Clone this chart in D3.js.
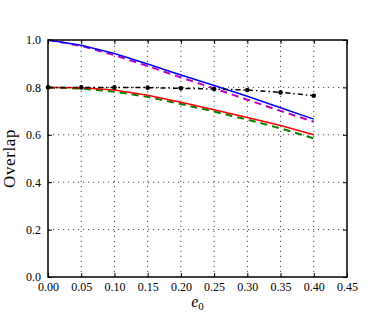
<!DOCTYPE html>
<html><head><meta charset="utf-8">
<script src="https://cdn.jsdelivr.net/npm/d3@7"></script>
<style>body{margin:0;background:#fff}svg{display:block}</style>
</head><body>
<script>
const xs = [0, 0.05, 0.10, 0.15, 0.20, 0.25, 0.30, 0.35, 0.40];
const blue = [1.0, 0.978, 0.943, 0.899, 0.852, 0.808, 0.763, 0.714, 0.666];
const magenta = [1.0, 0.975, 0.936, 0.890, 0.842, 0.796, 0.748, 0.701, 0.655];
const red = [0.8, 0.798, 0.789, 0.767, 0.737, 0.706, 0.673, 0.639, 0.600];
const green = [0.8, 0.795, 0.782, 0.760, 0.730, 0.698, 0.664, 0.627, 0.585];
const black = [0.8, 0.800, 0.800, 0.799, 0.796, 0.793, 0.789, 0.779, 0.765];
const xTicks = [0, 0.05, 0.10, 0.15, 0.20, 0.25, 0.30, 0.35, 0.40, 0.45];
const yTicks = [0, 0.2, 0.4, 0.6, 0.8, 1.0];

const W = 385, H = 316;
const m = {l: 48, r: 38, t: 40, b: 39};
const svg = d3.select("body").append("svg").attr("width", W).attr("height", H);
const x = d3.scaleLinear().domain([0, 0.45]).range([m.l, W - m.r]);
const y = d3.scaleLinear().domain([0, 1]).range([H - m.b, m.t]);
const font = "'Liberation Serif', 'Times New Roman', serif";

// grid
const g = svg.append("g");
g.selectAll(".gx").data(xTicks.slice(1, -1)).enter().append("line")
  .attr("x1", d => x(d)).attr("x2", d => x(d)).attr("y1", y(0)).attr("y2", y(1))
  .attr("stroke", "#333").attr("stroke-width", 0.9).attr("stroke-dasharray", "1.2,3.8");
g.selectAll(".gy").data(yTicks.slice(1, -1)).enter().append("line")
  .attr("x1", x(0)).attr("x2", x(0.45)).attr("y1", d => y(d)).attr("y2", d => y(d))
  .attr("stroke", "#333").attr("stroke-width", 0.9).attr("stroke-dasharray", "1.2,3.8");

// axes (inward ticks)
const fmtX = d3.format(".2f"), fmtY = d3.format(".1f");
const axB = svg.append("g").attr("transform", `translate(0,${y(0)})`)
  .call(d3.axisBottom(x).tickValues(xTicks).tickFormat(fmtX).tickSizeInner(-4).tickSizeOuter(0).tickPadding(7));
const axT = svg.append("g").attr("transform", `translate(0,${y(1)})`)
  .call(d3.axisTop(x).tickValues(xTicks).tickFormat("").tickSizeInner(-4).tickSizeOuter(0));
const axL = svg.append("g").attr("transform", `translate(${x(0)},0)`)
  .call(d3.axisLeft(y).tickValues(yTicks).tickFormat(fmtY).tickSizeInner(-4).tickSizeOuter(0).tickPadding(7));
const axR = svg.append("g").attr("transform", `translate(${x(0.45)},0)`)
  .call(d3.axisRight(y).tickValues(yTicks).tickFormat("").tickSizeInner(-4).tickSizeOuter(0));
[axB, axT, axL, axR].forEach(a => {
  a.select(".domain").remove();
  a.selectAll("line").attr("stroke", "#000").attr("stroke-width", 1);
  a.selectAll("text").attr("font-family", font).attr("font-size", 12).attr("fill", "#000");
});
axB.selectAll("text").attr("dy", "0.6em");

const line = d3.line().x((d, i) => x(xs[i])).y(d => y(d));
function drawLine(data, color, dash, w) {
  svg.append("path").datum(data).attr("d", line).attr("fill", "none")
    .attr("stroke", color).attr("stroke-width", w).attr("stroke-dasharray", dash);
}
drawLine(green, "#008000", "7,5", 2);
drawLine(red, "#ff0000", null, 1.5);
drawLine(magenta, "#bf00bf", "7,5", 2);
drawLine(blue, "#0000ff", null, 1.5);
drawLine(black, "#000", "5,3,1.5,3", 1.5);
svg.selectAll(".pt").data(black).enter().append("circle")
  .attr("cx", (d, i) => x(xs[i])).attr("cy", d => y(d)).attr("r", 2.3).attr("fill", "#000");

// frame
svg.append("rect").attr("x", x(0)).attr("y", y(1)).attr("width", x(0.45) - x(0)).attr("height", y(0) - y(1))
  .attr("fill", "none").attr("stroke", "#000").attr("stroke-width", 1.5);

// labels
svg.append("text").attr("transform", `translate(15,${(y(0) + y(1)) / 2}) rotate(-90)`)
  .attr("text-anchor", "middle").attr("font-family", font).attr("font-size", 17)
  .attr("letter-spacing", 0.6).text("Overlap");
const xl = svg.append("text").attr("x", (x(0) + x(0.45)) / 2).attr("y", 307)
  .attr("text-anchor", "middle").attr("font-family", font).attr("font-size", 16);
xl.append("tspan").attr("font-style", "italic").text("e");
xl.append("tspan").attr("font-size", 11).attr("dy", 3).text("0");
</script>
</body></html>
